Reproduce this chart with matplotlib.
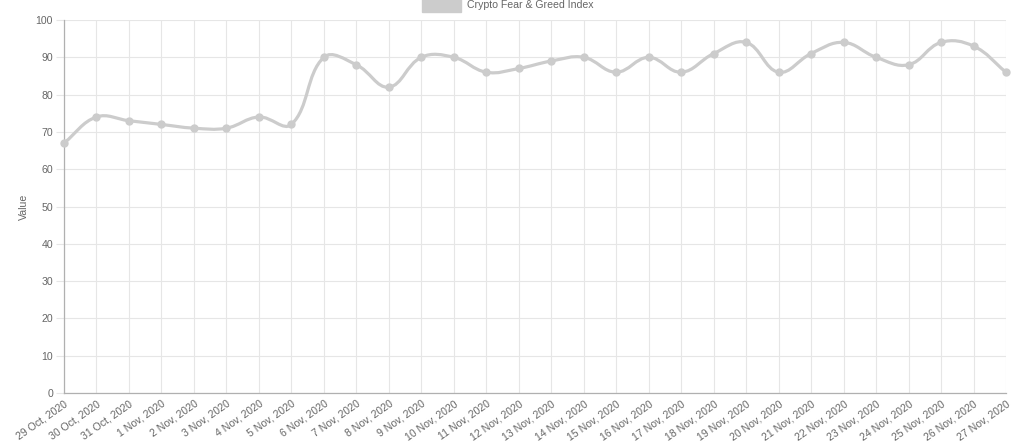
import numpy as np
import matplotlib
matplotlib.use("Agg")
import matplotlib.pyplot as plt
from matplotlib.path import Path
from matplotlib.patches import PathPatch, Rectangle

plt.rcParams['font.family'] = ['Liberation Sans', 'DejaVu Sans']

dates = ['29 Oct, 2020', '30 Oct, 2020', '31 Oct, 2020', '1 Nov, 2020', '2 Nov, 2020',
         '3 Nov, 2020', '4 Nov, 2020', '5 Nov, 2020', '6 Nov, 2020', '7 Nov, 2020',
         '8 Nov, 2020', '9 Nov, 2020', '10 Nov, 2020', '11 Nov, 2020', '12 Nov, 2020',
         '13 Nov, 2020', '14 Nov, 2020', '15 Nov, 2020', '16 Nov, 2020', '17 Nov, 2020',
         '18 Nov, 2020', '19 Nov, 2020', '20 Nov, 2020', '21 Nov, 2020', '22 Nov, 2020',
         '23 Nov, 2020', '24 Nov, 2020', '25 Nov, 2020', '26 Nov, 2020', '27 Nov, 2020']
values = [67, 74, 73, 72, 71, 71, 74, 72, 90, 88,
          82, 90, 90, 86, 87, 89, 90, 86, 90, 86,
          91, 94, 86, 91, 94, 90, 88, 94, 93, 86]

line_col = '#cccccc'
grid_col = '#e6e6e6'
text_col = '#666666'
fs = 7.6

fig = plt.figure(figsize=(10.24, 4.48), dpi=100)
ax = fig.add_axes([64 / 1024, 1 - 393 / 448, 942 / 1024, 373 / 448])

x = np.arange(len(values))
y = np.array(values, dtype=float)

# chart.js style spline (tension 0.4), distances measured in pixels
sx, sy = 942 / (len(values) - 1), 3.73
px, py = x * sx, y * sy
t = 0.4
cp_prev, cp_next = [], []
for i in range(len(values)):
    a = max(i - 1, 0)
    b = min(i + 1, len(values) - 1)
    d01 = np.hypot(px[i] - px[a], py[i] - py[a])
    d12 = np.hypot(px[b] - px[i], py[b] - py[i])
    tot = d01 + d12
    s01 = d01 / tot if tot else 0
    s12 = d12 / tot if tot else 0
    fa, fb = t * s01, t * s12
    dx, dy = x[b] - x[a], y[b] - y[a]
    cp_prev.append((x[i] - fa * dx, y[i] - fa * dy))
    cp_next.append((x[i] + fb * dx, y[i] + fb * dy))

verts = [(x[0], y[0])]
codes = [Path.MOVETO]
for i in range(1, len(values)):
    verts += [cp_next[i - 1], cp_prev[i], (x[i], y[i])]
    codes += [Path.CURVE4] * 3
ax.add_patch(PathPatch(Path(verts, codes), fill=False, edgecolor=line_col,
                       lw=2.3, zorder=3, clip_on=False))
ax.plot(x, y, 'o', color=line_col, ms=5, zorder=4, clip_on=False)

ax.set_xlim(0, len(values) - 1)
ax.set_ylim(0, 100)
ax.set_yticks(range(0, 101, 10))
ax.set_xticks(x)
ax.set_xticklabels(dates, rotation=35, ha='right', rotation_mode='anchor')
ax.grid(True, color=grid_col, lw=0.8)
ax.set_axisbelow(True)
for s in ['top', 'right']:
    ax.spines[s].set_visible(False)
for s in ['left', 'bottom']:
    ax.spines[s].set_color('#b0b0b0')
    ax.spines[s].set_linewidth(0.9)
ax.tick_params(colors=grid_col, labelcolor=text_col, labelsize=fs, width=0.8)
ax.tick_params(axis='y', length=6, pad=2)
ax.tick_params(axis='x', length=0, pad=4)
ax.set_ylabel('Value', color=text_col, fontsize=fs, labelpad=5)

# legend
fig.patches.append(Rectangle((422 / 1024, 1 - 12 / 448), 39 / 1024, 14 / 448,
                             transform=fig.transFigure, color=line_col))
fig.text(467 / 1024, 1 - 5 / 448, 'Crypto Fear & Greed Index', color=text_col,
         fontsize=fs, va='center', ha='left')

fig.savefig('out.png', dpi=100)
